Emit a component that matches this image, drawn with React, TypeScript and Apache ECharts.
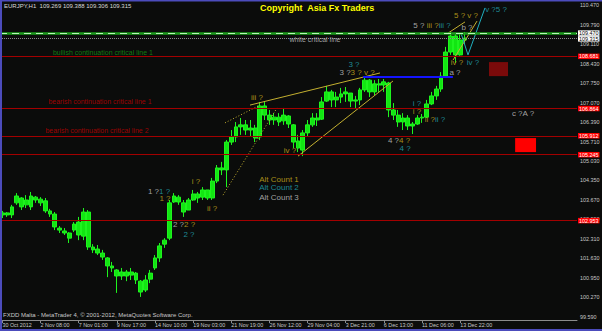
import React, { useEffect, useRef } from 'react';
import * as echarts from 'echarts';

const TIME_LABELS = ['30 Oct 2012', '2 Nov 08:00', '7 Nov 01:00', '9 Nov 17:00', '14 Nov 10:00', '19 Nov 03:00', '21 Nov 19:00', '26 Nov 12:00', '29 Nov 04:00', '3 Dec 21:00', '6 Dec 13:00', '11 Dec 06:00', '13 Dec 22:00'];
const SLOT_COUNT = 121;
const SLOTS_PER_LABEL = 8;
const OVERLAY_MAX = 121.42;
const PRICE_TICKS = [99.59, 100.27, 100.95, 101.63, 102.31, 102.99, 103.67, 104.35, 105.03, 105.71, 106.39, 107.07, 107.75, 108.43, 109.11, 109.79, 110.47];
const Y_MIN = 99.485;
const Y_MAX = 110.575;

// [open, close, low, high]
const CANDLES = [
  [103.15, 103.22, 103.04, 103.29], [103.22, 103.15, 103.08, 103.25], [103.15, 103.43, 103.04, 103.50], [103.57, 103.81, 103.50, 103.91], [103.74, 103.43, 103.32, 103.77],
  [103.50, 103.67, 103.39, 103.84], [103.43, 103.81, 103.32, 103.95], [103.77, 103.67, 103.57, 103.81], [103.70, 103.57, 103.46, 103.77], [103.64, 103.29, 103.22, 103.74],
  [103.29, 103.18, 103.08, 103.36], [103.18, 102.73, 102.62, 103.25], [102.69, 102.62, 102.52, 102.76], [102.59, 102.52, 102.45, 102.69], [102.52, 102.34, 102.17, 102.55],
  [102.62, 102.83, 102.55, 102.90], [102.90, 102.45, 102.27, 103.08], [102.41, 103.25, 102.27, 103.39], [103.25, 102.03, 101.93, 103.32], [102.03, 101.93, 101.82, 102.13],
  [101.96, 101.82, 101.75, 102.10], [101.82, 101.68, 101.58, 101.93], [101.65, 101.37, 100.98, 101.68], [101.37, 101.30, 101.16, 101.51], [101.23, 101.02, 100.43, 101.26],
  [101.02, 101.16, 100.88, 101.30], [101.16, 101.02, 100.84, 101.23], [101.05, 101.16, 100.88, 101.30], [101.12, 100.88, 100.74, 101.16], [100.84, 100.46, 100.29, 100.88],
  [100.53, 100.88, 100.46, 101.05], [100.91, 101.12, 100.77, 101.23], [101.30, 101.65, 101.23, 101.75], [101.65, 102.07, 101.51, 102.17], [102.13, 102.27, 102.00, 102.34],
  [102.34, 103.57, 102.27, 103.67], [103.60, 103.81, 103.57, 103.91], [103.77, 103.60, 103.50, 103.84], [103.57, 103.25, 103.08, 103.67], [103.32, 103.67, 103.32, 103.74],
  [103.67, 103.88, 103.64, 104.02], [103.88, 103.74, 103.57, 103.95], [103.77, 104.02, 103.67, 104.12], [104.02, 103.74, 103.67, 104.02], [103.74, 104.33, 103.67, 104.44],
  [104.33, 104.79, 104.26, 104.89], [104.79, 104.72, 104.54, 105.00], [104.72, 105.69, 104.12, 105.76], [105.69, 105.87, 105.59, 106.11], [105.87, 106.22, 105.69, 106.39],
  [106.22, 106.29, 105.94, 106.53], [106.29, 106.11, 105.94, 106.46], [106.11, 106.18, 105.90, 106.46], [106.18, 105.83, 105.69, 106.29], [105.87, 106.95, 105.76, 107.09],
  [106.95, 106.63, 106.46, 107.12], [106.63, 106.46, 106.29, 106.81], [106.46, 106.56, 106.29, 106.70], [106.56, 106.39, 106.25, 106.70], [106.43, 106.63, 106.29, 106.88],
  [106.60, 106.32, 106.18, 106.63], [106.29, 105.69, 105.48, 106.32], [105.73, 105.48, 105.34, 105.94], [105.41, 106.01, 105.20, 106.11], [106.01, 106.29, 105.87, 106.46],
  [106.29, 106.53, 106.22, 106.70], [106.53, 106.46, 106.25, 106.70], [106.49, 107.09, 106.46, 107.26], [107.12, 107.44, 107.09, 107.65], [107.44, 107.16, 106.91, 107.51],
  [107.16, 107.26, 106.91, 107.44], [107.26, 107.37, 107.05, 107.58], [107.37, 107.44, 107.09, 107.61], [107.40, 107.12, 106.91, 107.40], [107.12, 107.16, 106.88, 107.30],
  [107.16, 107.51, 106.98, 107.58], [107.51, 107.85, 107.44, 107.99], [107.85, 107.44, 107.26, 107.89], [107.44, 107.72, 107.33, 107.85], [107.72, 107.68, 107.44, 107.89],
  [107.68, 107.79, 107.44, 107.89], [107.75, 106.81, 106.56, 107.79], [106.81, 106.63, 106.46, 107.05], [106.63, 106.39, 106.22, 106.81], [106.39, 106.53, 106.11, 106.70],
  [106.53, 106.25, 106.11, 106.63], [106.25, 106.32, 105.97, 106.39], [106.32, 106.53, 106.29, 106.63], [106.53, 106.56, 106.36, 106.67], [106.56, 107.02, 106.53, 107.16],
  [107.02, 107.30, 106.98, 107.44], [107.30, 107.54, 107.16, 107.65], [107.54, 107.99, 107.44, 108.13], [107.99, 108.83, 107.96, 109.01], [108.83, 109.39, 108.73, 109.53],
  [109.39, 108.73, 108.45, 109.46], [108.73, 109.25, 108.70, 109.46], [109.25, 109.32, 109.11, 109.53],
];

const RED_LEVELS = [108.681, 106.864, 105.912, 105.245, 102.953];
const GREEN_LEVEL = 109.47;
const WHITE_LEVEL = 109.315;

const TREND_SOLID = [
  [[52.61, 106.98], [79.97, 108.10]],
  [[62.71, 105.20], [82.70, 107.82]],
  [[94.28, 109.49], [97.85, 109.88]],
  [[95.33, 108.55], [100.38, 109.91]],
];
const TREND_DOTTED = [
  [[47.35, 106.36], [54.71, 106.98]],
  [[46.93, 103.84], [58.29, 106.88]],
];
const CYAN_PATH = [[97.01, 109.49], [98.48, 108.73], [102.06, 110.37]];
const BLUE_LEVEL = [[76.4, 107.96], [95.3, 107.96]];
const DARK_BOX = [[102.9, 108.48], [106.9, 107.99]];
const RED_BOX = [[108.4, 105.83], [112.8, 105.34]];

const WAVE_LABELS = [
  { x: 33.46, y: 103.98, parts: [['g', '1 ?'], ['c', '1 ?']] },
  { x: 34.72, y: 103.71, parts: [['y', '1 ?']] },
  { x: 38.72, y: 102.80, parts: [['g', '2 ?'], ['y', '2 ?']] },
  { x: 39.77, y: 102.48, parts: [['c', '2 ?']] },
  { x: 41.25, y: 104.33, parts: [['y', 'i ?']] },
  { x: 44.61, y: 103.39, parts: [['y', 'ii ?']] },
  { x: 54.08, y: 107.23, parts: [['y', 'iii ?']] },
  { x: 61.03, y: 105.38, parts: [['y', 'iv ?']] },
  { x: 74.49, y: 108.41, parts: [['c', '3 ?']] },
  { x: 75.13, y: 108.10, parts: [['g', '3 ?'], ['y', '3 ? v ?']] },
  { x: 83.96, y: 105.73, parts: [['g', '4 ?'], ['y', '4 ?']] },
  { x: 85.23, y: 105.45, parts: [['c', '4 ?']] },
  { x: 87.75, y: 107.02, parts: [['c', 'i ?']] },
  { x: 87.75, y: 106.74, parts: [['y', 'i ?']] },
  { x: 91.54, y: 106.46, parts: [['y', 'ii ?'], ['c', 'ii ?']] },
  { x: 90.91, y: 109.74, parts: [['g', '5 ? '], ['y', 'iii ?'], ['c', 'iii ?']] },
  { x: 98.06, y: 110.09, parts: [['y', '5 ? v ?']] },
  { x: 98.27, y: 109.67, parts: [['g', 'b ?']] },
  { x: 104.38, y: 110.33, parts: [['c', 'v ?5 ?']] },
  { x: 96.17, y: 108.45, parts: [['y', 'iv ?']] },
  { x: 99.54, y: 108.48, parts: [['c', 'iv ?']] },
  { x: 95.75, y: 108.10, parts: [['g', 'a ?']] },
  { x: 110.06, y: 106.70, parts: [['g', 'c ?A ?']] },
  { x: 58.71, y: 104.40, parts: [['y', 'Alt Count 1']] },
  { x: 58.71, y: 104.09, parts: [['c', 'Alt Count 2']] },
  { x: 58.71, y: 103.77, parts: [['g', 'Alt Count 3']] },
];

const LINE_TEXTS = [
  { x: 21.67, y: 108.83, text: 'bullish continuation critical line 1', color: '#119a11' },
  { x: 21.04, y: 107.09, text: 'bearish continuation critical line 1', color: '#c00000' },
  { x: 20.41, y: 106.11, text: 'bearish continuation critical line 2', color: '#c00000' },
  { x: 66.29, y: 109.28, text: 'white critical line', color: '#c8c8c8' },
];

const FONT = 'Liberation Sans, Arial, sans-serif';
const SMALL = 5.4;
const YEL = '#d2b21e';
const CYAN = '#23aab8';
const GRAY = '#c8c8c8';

export default function App() {
  const ref = useRef<HTMLDivElement>(null);
  useEffect(() => {
    document.body.style.margin = '0';
    const chart = echarts.init(ref.current!, null, { renderer: 'svg' });
    const categories = Array.from({ length: SLOT_COUNT }, (_, i) => 's' + i);
    const showTick = (i: number) => i % SLOTS_PER_LABEL === 0 && i / SLOTS_PER_LABEL < TIME_LABELS.length;

    const priceBox = (v: number, bg: string, fg: string, dy = 0) => ({
      show: true,
      position: 'end',
      formatter: v.toFixed(3),
      backgroundColor: bg,
      color: fg,
      fontSize: SMALL,
      lineHeight: 5.5,
      fontFamily: FONT,
      padding: [0, 1, 0, 1],
      distance: 1,
      offset: [0, dy],
    });

    const markLineData: any[] = [
      ...RED_LEVELS.map((v) => ({ yAxis: v, lineStyle: { color: '#a30000', width: 1, type: 'solid' }, label: priceBox(v, '#ff0000', '#ffffff') })),
      { yAxis: GREEN_LEVEL, lineStyle: { color: '#1c9c1c', width: 2.5, type: 'solid' }, label: { show: false } },
      { yAxis: GREEN_LEVEL, lineStyle: { color: '#b8f5b8', width: 1, type: [7, 5] }, label: priceBox(GREEN_LEVEL, '#ffffff', '#000000', -0.6) },
      { yAxis: WHITE_LEVEL, lineStyle: { color: '#8a8a8a', width: 1, type: [1, 1] }, label: priceBox(WHITE_LEVEL, '#ffffff', '#000000', 0.6) },
    ];

    const overlay = { xAxisIndex: 1, yAxisIndex: 0, silent: true, animation: false };

    const series: any[] = [
      {
        type: 'candlestick',
        data: CANDLES,
        barWidth: 4.3,
        itemStyle: { color: '#12e612', color0: '#12e612', borderColor: '#1ef41e', borderColor0: '#1ef41e', borderWidth: 1 },
        silent: true,
        markLine: { symbol: ['none', 'none'], silent: true, animation: false, label: { show: false }, data: markLineData },
        z: 3,
      },
      ...TREND_SOLID.map((pts) => ({ ...overlay, type: 'line', data: pts, symbol: 'none', lineStyle: { color: '#c4b030', width: 1 }, z: 4 })),
      ...TREND_DOTTED.map((pts) => ({ ...overlay, type: 'line', data: pts, symbol: 'none', lineStyle: { color: '#c4b030', width: 1, type: [1, 2] }, z: 4 })),
      { ...overlay, type: 'line', data: CYAN_PATH, symbol: 'none', lineStyle: { color: '#1fb0c0', width: 1 }, z: 4 },
      {
        ...overlay, type: 'line', data: BLUE_LEVEL, symbol: 'none', lineStyle: { color: '#1414ff', width: 2 }, z: 4,
        markArea: { silent: true, itemStyle: { color: '#7a0a0a' }, data: [[{ coord: DARK_BOX[0] }, { coord: DARK_BOX[1] }]] },
      },
      {
        ...overlay, type: 'line', data: [], symbol: 'none',
        markArea: { silent: true, itemStyle: { color: '#ff0000' }, data: [[{ coord: RED_BOX[0] }, { coord: RED_BOX[1] }]] },
      },
      {
        ...overlay, type: 'scatter', symbolSize: 1, itemStyle: { color: 'rgba(0,0,0,0)' }, z: 10,
        label: {
          show: true, position: 'inside', fontFamily: FONT, fontSize: 8,
          rich: {
            g: { color: GRAY, fontSize: 8, fontFamily: FONT },
            y: { color: YEL, fontSize: 8, fontFamily: FONT },
            c: { color: CYAN, fontSize: 8, fontFamily: FONT },
          },
        },
        data: WAVE_LABELS.map((w) => ({
          value: [w.x, w.y],
          label: { formatter: w.parts.map(([k, t]) => `{${k}|${t}}`).join('') },
        })),
      },
      {
        ...overlay, type: 'scatter', symbolSize: 1, itemStyle: { color: 'rgba(0,0,0,0)' }, z: 10,
        data: LINE_TEXTS.map((t) => ({
          value: [t.x, t.y],
          label: { show: true, position: 'inside', formatter: t.text, color: t.color, fontSize: 7, fontFamily: FONT },
        })),
      },
    ];

    const option: any = {
      animation: false,
      backgroundColor: '#0b0c0b',
      textStyle: { fontFamily: FONT },
      grid: { left: 0, right: 25, top: 2, bottom: 11, containLabel: false, outerBoundsMode: 'none' },
      xAxis: [
        {
          type: 'category',
          data: categories,
          boundaryGap: true,
          axisLine: { show: true, lineStyle: { color: '#8c8c8c', width: 1 } },
          axisTick: { show: true, alignWithLabel: true, interval: (i: number) => showTick(i), length: 3, lineStyle: { color: '#8c8c8c' } },
          axisLabel: {
            interval: (i: number) => showTick(i),
            formatter: (_v: string, i: number) => TIME_LABELS[i / SLOTS_PER_LABEL] ?? '',
            align: 'left', color: GRAY, fontSize: SMALL, margin: 2.5, fontFamily: FONT,
          },
          splitLine: { show: false },
        },
        { type: 'value', min: 0, max: OVERLAY_MAX, show: false, gridIndex: 0 },
      ],
      yAxis: {
        type: 'value',
        position: 'right',
        min: Y_MIN,
        max: Y_MAX,
        axisLine: { show: true, lineStyle: { color: '#8c8c8c', width: 1 } },
        axisTick: { show: true, length: 2, customValues: PRICE_TICKS, lineStyle: { color: '#8c8c8c' } },
        axisLabel: { customValues: PRICE_TICKS, formatter: (v: number) => v.toFixed(3), color: GRAY, fontSize: SMALL, margin: 3, fontFamily: FONT },
        splitLine: { show: false },
      },
      series,
      graphic: [
        { type: 'text', left: 4, top: 3, z: 20, style: { text: 'EURJPY,H1  109.269 109.388 109.306 109.315', fill: '#d8d8d8', font: `6px ${FONT}` } },
        { type: 'text', left: 260, top: 3, z: 20, style: { text: 'Copyright  Asia Fx Traders', fill: '#ffff00', font: `bold 9px ${FONT}` } },
        { type: 'text', left: 3, top: 312, z: 20, style: { text: 'FXDD Malta - MetaTrader 4, \u00a9 2001-2012, MetaQuotes Software Corp.', fill: '#c8c8c8', font: `6px ${FONT}` } },
        { type: 'rect', left: 0, top: 0, z: 30, shape: { width: 2, height: 331 }, style: { fill: '#4c4cbc' } },
        { type: 'rect', left: 0, top: 0, z: 30, shape: { width: 602, height: 1.5 }, style: { fill: '#4c4cbc' } },
        { type: 'rect', left: 0, top: 329, z: 30, shape: { width: 602, height: 2 }, style: { fill: '#4c4cbc' } },
      ],
    };
    chart.setOption(option);
    return () => chart.dispose();
  }, []);
  return <div ref={ref} style={{ position: 'fixed', left: 0, top: 0, width: 602, height: 331 }} />;
}
